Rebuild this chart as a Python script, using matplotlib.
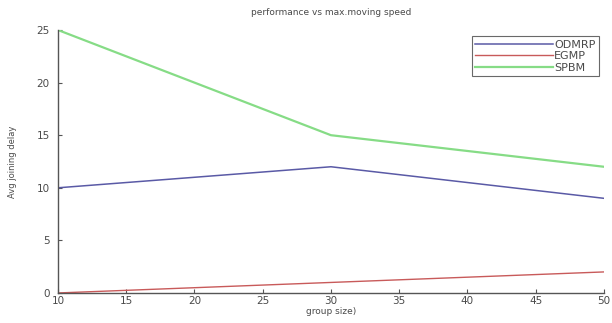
import matplotlib
matplotlib.use("Agg")
import matplotlib.pyplot as plt

# group sizes on the x axis
group_size = [10, 30, 50]

# average joining delay per protocol
odmrp = [10, 12, 9]
egmp = [0, 1, 2]
spbm = [25, 15, 12]

x_ticks = [10, 15, 20, 25, 30, 35, 40, 45, 50]
y_ticks = [0, 5, 10, 15, 20, 25]

text_color = "#4a4a4a"
plt.rcParams["font.family"] = "DejaVu Sans"

fig = plt.figure(figsize=(6.12, 3.23), dpi=100)
ax = fig.add_axes([0.0948, 0.093, 0.892, 0.814])

ax.plot(group_size, odmrp, color="#5a5aa6", lw=1.1, label="ODMRP")
ax.plot(group_size, egmp, color="#c85a5a", lw=1.0, label="EGMP")
ax.plot(group_size, spbm, color="#86dc86", lw=1.6, label="SPBM")

ax.set_xlim(10, 50)
ax.set_ylim(0, 25)
ax.set_xticks(x_ticks)
ax.set_yticks(y_ticks)

for side in ("top", "right"):
    ax.spines[side].set_visible(False)
for side in ("left", "bottom"):
    ax.spines[side].set_color("#555555")
    ax.spines[side].set_linewidth(1.0)

ax.tick_params(direction="in", length=3, width=0.8, colors="#555555",
               labelcolor=text_color, labelsize=7.5)
ax.tick_params(axis="y", pad=6)
ax.tick_params(axis="x", pad=2)

ax.set_title("performance vs max.moving speed", fontsize=6.5,
             color=text_color, pad=11)
ax.set_xlabel("group size)", fontsize=6.5, color=text_color, labelpad=1)
ax.set_ylabel("Avg joining delay", fontsize=6, color=text_color, labelpad=14)

leg = ax.legend(loc="upper right", bbox_to_anchor=(0.995, 0.985),
                fontsize=8, frameon=True, fancybox=False,
                handlelength=7, handletextpad=0.1, borderpad=0.3,
                labelspacing=0.15, borderaxespad=0.2)
leg.get_frame().set_edgecolor("#444444")
leg.get_frame().set_linewidth(0.8)
for t in leg.get_texts():
    t.set_color(text_color)

fig.savefig("out.png", dpi=100)
